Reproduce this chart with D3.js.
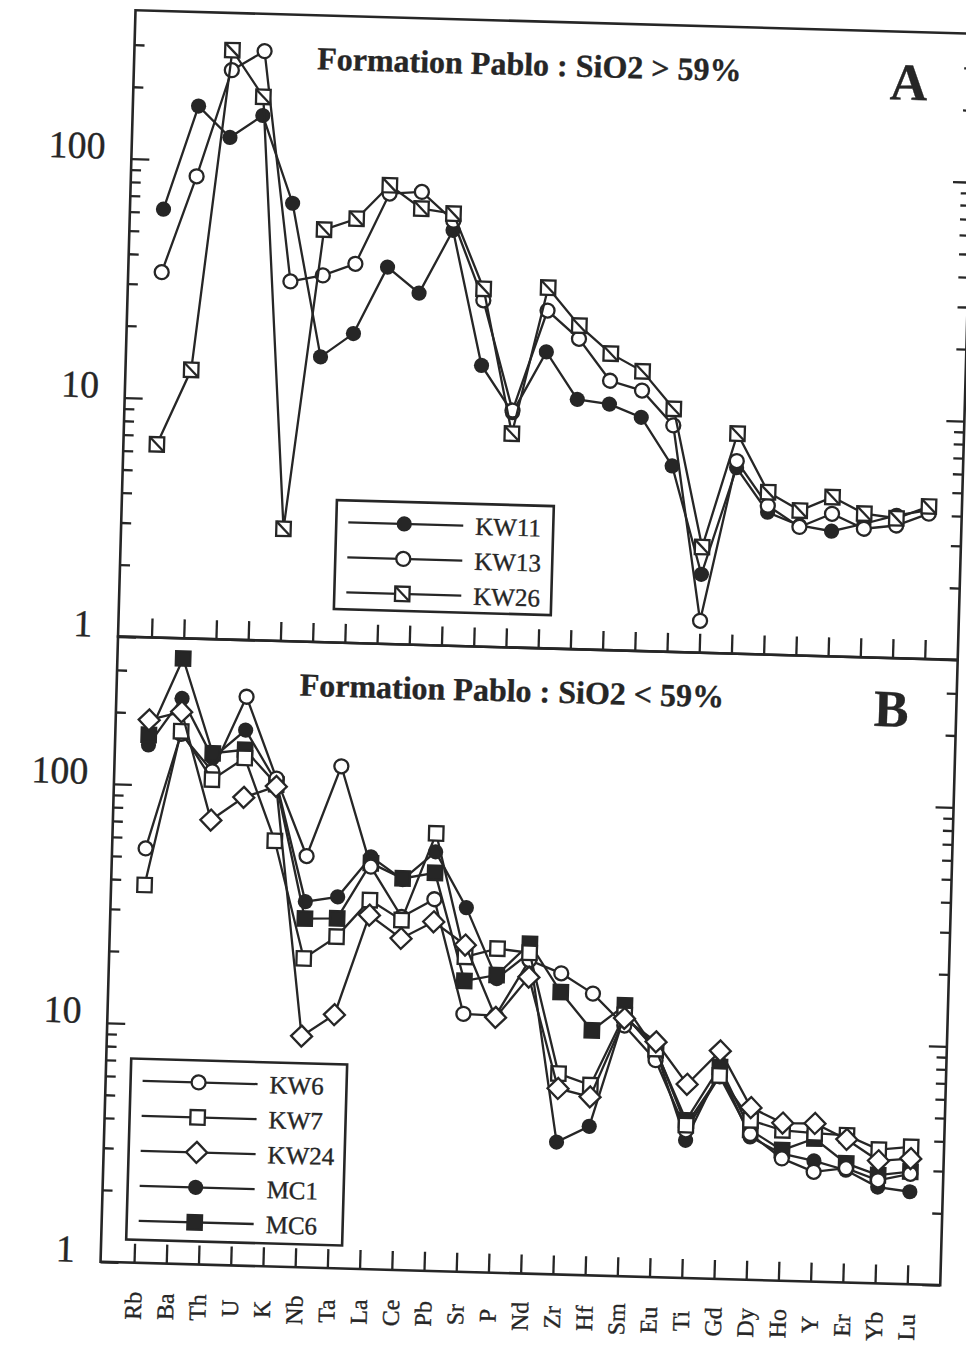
<!DOCTYPE html>
<html>
<head>
<meta charset="utf-8">
<script src="https://cdn.jsdelivr.net/npm/d3@7"></script>
<style>
  body { margin: 0; background: #fff; }
  text { font-family: "Liberation Serif", "DejaVu Serif", serif; fill: #262626; stroke: #262626; stroke-width: 0.35px; }
</style>
</head>
<body>
<div class="chart"></div>
<script>
// elements, in diagram order
var elements = ["Rb","Ba","Th","U","K","Nb","Ta","La","Ce","Pb","Sr","P","Nd",
                "Zr","Hf","Sm","Eu","Ti","Gd","Dy","Ho","Y","Er","Yb","Lu"];

// panel A : SiO2 > 59%
var kw11 = [62, 169, 126, 157, 68, 15.6, 19.7, 37.7, 29.6, 54.7, 15.0, 9.6, 17.4,
            11.1, 10.7, 9.5, 6.0, 2.13, 6.0, 3.94, 3.5, 3.34, 3.62, 3.96, 4.2];
var kw13 = [33.8, 85.9, 241, 292, 32.0, 34.2, 38.6, 76.6, 78.5, 60, 28.1, 9.8, 25.9,
            19.9, 13.4, 12.3, 8.87, 1.36, 6.4, 4.2, 3.45, 3.95, 3.45, 3.59, 4.06];
var kw26 = [6.43, 13.3, 292, 188, 2.95, 53.2, 59.6, 83, 66.8, 64.2, 31.4, 7.84, 32.3,
            22.6, 17.4, 14.8, 10.4, 2.77, 8.33, 4.78, 4.04, 4.64, 3.99, 3.85, 4.35];

// panel B : SiO2 < 59%
var kw6  = [54.2, 165, 116, 240, 110, 52.6, 126, 48.3, 30, 35.9, 12.0, 11.9, 20.5,
            18.2, 15.1, 11.2, 8.09, 4.15, 7.05, 4.08, 3.25, 2.88, 3.01, 2.7, 2.9];
var kw7  = [38.1, 169, 107, 133, 60.4, 19.6, 24.4, 35, 29.1, 67.7, 20.8, 22.7, 22,
            6.93, 6.25, 12.4, 9.0, 4.36, 7.1, 4.65, 4.26, 4.18, 4.13, 3.63, 3.76];
var kw24 = [187, 204, 72.5, 91, 102, 9.27, 11.5, 30.3, 24.4, 28.9, 23.3, 11.7, 17.4,
            6.0, 5.58, 12.0, 9.65, 6.47, 9.0, 5.26, 4.57, 4.59, 3.97, 3.26, 3.36];
var mc1  = [147, 232, 132, 174, 106, 33.9, 35.8, 53.1, 43, 56.7, 33.4, 17, 22,
            3.58, 4.2, 12.4, 8.9, 3.77, 7.47, 3.96, 3.40, 3.20, 2.95, 2.53, 2.44];
var mc6  = [162, 341, 138, 144, 104, 28.8, 29.1, 50, 43.5, 46.3, 16.5, 17.6, 24.0,
            15.2, 10.6, 13.6, 8.9, 4.57, 7.71, 4.23, 3.52, 3.97, 3.15, 2.84, 2.96];

var majorTicks = [1, 10, 100];
var minorTicks = [2,3,4,5,6,7,8,9,20,30,40,50,60,70,80,90,200,300];

var width = 966, height = 1347;
var ink = "#262626";
var left = 118, right = 958;

var svg = d3.select(".chart").append("svg")
    .attr("width", width)
    .attr("height", height);

svg.append("rect").attr("width", width).attr("height", height).attr("fill", "#fff");

// the page was scanned a bit crooked
var page = svg.append("g").attr("transform", "rotate(1.6,118,637)");

var x = d3.scalePoint().domain(elements).range([151.5, 925]);

function drawMarker(g, kind) {
    if (kind == "dot") {
        g.append("circle").attr("r", 7.6).attr("fill", ink);
    } else if (kind == "circle") {
        g.append("circle").attr("r", 7).attr("fill", "#fff")
            .attr("stroke", ink).attr("stroke-width", 2.3);
    } else if (kind == "square" || kind == "block" || kind == "slash") {
        g.append("rect").attr("x", -7.2).attr("y", -7.2)
            .attr("width", 14.4).attr("height", 14.4)
            .attr("fill", kind == "block" ? ink : "#fff")
            .attr("stroke", ink).attr("stroke-width", 2.3);
        if (kind == "slash") {
            g.append("line").attr("x1", -7.2).attr("y1", -7.2).attr("x2", 7.2).attr("y2", 7.2)
                .attr("stroke", ink).attr("stroke-width", 2.3);
        }
    } else if (kind == "diamond") {
        g.append("path").attr("d", "M0,-10.5L10.5,0L0,10.5L-10.5,0Z")
            .attr("fill", "#fff").attr("stroke", ink).attr("stroke-width", 2.3);
    }
}

function panel(top, bottom, series, legendOrder, title, letter, box) {
    var y = d3.scaleLog().domain([1, 100]).range([bottom, bottom - 478]);
    var g = page.append("g");

    // ticks, all pointing inward
    var l1 = g.append("g").attr("transform", "translate(" + left + ",0)")
        .call(d3.axisLeft(y).tickValues(majorTicks).tickSizeInner(-18).tickSizeOuter(0)
            .tickPadding(26).tickFormat(d3.format("d")));
    l1.selectAll("text").attr("y", -12).style("font-size", "38px")
        .style("font-family", "'Liberation Serif', serif").attr("fill", ink);
    var l2 = g.append("g").attr("transform", "translate(" + left + ",0)")
        .call(d3.axisLeft(y).tickValues(minorTicks).tickSizeInner(-10).tickSizeOuter(0).tickFormat(""));
    var r1 = g.append("g").attr("transform", "translate(" + right + ",0)")
        .call(d3.axisRight(y).tickValues(majorTicks).tickSizeInner(-18).tickSizeOuter(0).tickFormat(""));
    var r2 = g.append("g").attr("transform", "translate(" + right + ",0)")
        .call(d3.axisRight(y).tickValues(minorTicks).tickSizeInner(-10).tickSizeOuter(0).tickFormat(""));
    var b1 = g.append("g").attr("transform", "translate(0," + bottom + ")")
        .call(d3.axisBottom(x).tickSizeInner(-19).tickSizeOuter(0).tickFormat(""));
    [l1, l2, r1, r2, b1].forEach(function(a) {
        a.select(".domain").remove();
        a.selectAll("line").attr("stroke", ink).attr("stroke-width", 2.3);
    });

    g.append("rect")
        .attr("x", left).attr("y", top)
        .attr("width", right - left).attr("height", bottom - top)
        .attr("fill", "none").attr("stroke", ink).attr("stroke-width", 2.6);

    g.append("text").attr("x", 301).attr("y", top + 54)
        .style("font-size", "32px").style("font-weight", "bold")
        .text(title);
    g.append("text").attr("x", 893).attr("y", top + 68)
        .attr("text-anchor", "middle")
        .style("font-size", "52px").style("font-weight", "bold")
        .text(letter);

    var line = d3.line()
        .x(function(d, i) { return x(elements[i]); })
        .y(function(d) { return y(d); });

    series.forEach(function(s) {
        g.append("path").datum(s.values)
            .attr("d", line)
            .attr("fill", "none").attr("stroke", ink).attr("stroke-width", 2.3);
        g.append("g").selectAll("g")
            .data(s.values)
            .enter().append("g")
            .attr("transform", function(d, i) { return "translate(" + x(elements[i]) + "," + y(d) + ")"; })
            .each(function() { drawMarker(d3.select(this), s.marker); });
    });

    // legend
    var lg = g.append("g");
    lg.append("rect").attr("x", box.x).attr("y", box.y)
        .attr("width", box.w).attr("height", box.h)
        .attr("fill", "#fff").attr("stroke", ink).attr("stroke-width", 2.6);
    legendOrder.forEach(function(s, i) {
        var ly = box.y + 22 + i * 35;
        lg.append("line").attr("x1", box.x + 12).attr("x2", box.x + 127)
            .attr("y1", ly).attr("y2", ly).attr("stroke", ink).attr("stroke-width", 2.3);
        drawMarker(lg.append("g").attr("transform", "translate(" + (box.x + 68) + "," + ly + ")"), s.marker);
        lg.append("text").attr("x", box.x + 139).attr("y", ly).attr("dy", "0.35em")
            .style("font-size", "25px").text(s.name);
    });

    return y;
}

var s11 = {name: "KW11", values: kw11, marker: "dot"},
    s13 = {name: "KW13", values: kw13, marker: "circle"},
    s26 = {name: "KW26", values: kw26, marker: "slash"};

panel(10, 636.5, [s11, s13, s26], [s11, s13, s26],
    "Formation Pablo : SiO2 > 59%", "A", {x: 333, y: 494, w: 217, h: 109});

var s6 = {name: "KW6", values: kw6, marker: "circle"},
    s7 = {name: "KW7", values: kw7, marker: "square"},
    s24 = {name: "KW24", values: kw24, marker: "diamond"},
    sm1 = {name: "MC1", values: mc1, marker: "dot"},
    sm6 = {name: "MC6", values: mc6, marker: "block"};

panel(636.5, 1262, [sm1, sm6, s6, s7, s24], [s6, s7, s24, sm1, sm6],
    "Formation Pablo : SiO2 < 59%", "B", {x: 143, y: 1058, w: 216, h: 181});

// element names under the lower panel
page.append("g").selectAll("text")
    .data(elements)
    .enter().append("text")
    .attr("transform", function(d) { return "translate(" + x(d) + ",1305) rotate(-90)"; })
    .attr("text-anchor", "middle")
    .attr("dy", "0.35em")
    .style("font-size", "24px")
    .text(function(d) { return d; });
</script>
</body>
</html>
